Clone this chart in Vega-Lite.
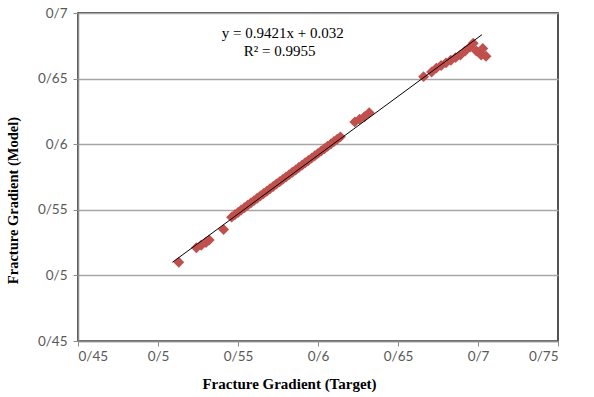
{
  "$schema": "https://vega.github.io/schema/vega-lite/v6.json",
  "width": 480,
  "height": 328,
  "autosize": "none",
  "padding": {"left": 78, "top": 13, "right": 36, "bottom": 56},
  "background": "white",
  "config": {
    "view": {"stroke": "#1a1a1a", "strokeWidth": 1.5},
    "axis": {
      "labelFont": "Lato",
      "labelFontSize": 13.5,
      "labelColor": "#595959",
      "titleFont": "Liberation Serif",
      "titleFontSize": 15,
      "titleFontWeight": "bold",
      "titleColor": "#000000",
      "domainColor": "#8c8c8c",
      "domainWidth": 1.5,
      "tickColor": "#8c8c8c",
      "tickSize": 5,
      "gridColor": "#a6a6a6",
      "gridWidth": 1.5
    }
  },
  "datasets": {
    "points": [
      {"target": 0.513, "model": 0.510},
      {"target": 0.524, "model": 0.521},
      {"target": 0.527, "model": 0.523},
      {"target": 0.530, "model": 0.525},
      {"target": 0.532, "model": 0.527},
      {"target": 0.541, "model": 0.535},
      {"target": 0.546, "model": 0.5444},
      {"target": 0.548, "model": 0.5462},
      {"target": 0.550, "model": 0.548},
      {"target": 0.552, "model": 0.5498},
      {"target": 0.554, "model": 0.5516},
      {"target": 0.556, "model": 0.5534},
      {"target": 0.558, "model": 0.5552},
      {"target": 0.560, "model": 0.557},
      {"target": 0.562, "model": 0.5588},
      {"target": 0.564, "model": 0.5606},
      {"target": 0.566, "model": 0.5624},
      {"target": 0.568, "model": 0.5642},
      {"target": 0.570, "model": 0.566},
      {"target": 0.572, "model": 0.5678},
      {"target": 0.574, "model": 0.5696},
      {"target": 0.576, "model": 0.5714},
      {"target": 0.578, "model": 0.5732},
      {"target": 0.580, "model": 0.575},
      {"target": 0.582, "model": 0.5768},
      {"target": 0.584, "model": 0.5786},
      {"target": 0.586, "model": 0.5804},
      {"target": 0.588, "model": 0.5822},
      {"target": 0.590, "model": 0.584},
      {"target": 0.592, "model": 0.5858},
      {"target": 0.594, "model": 0.5876},
      {"target": 0.596, "model": 0.5894},
      {"target": 0.598, "model": 0.5912},
      {"target": 0.600, "model": 0.593},
      {"target": 0.602, "model": 0.5948},
      {"target": 0.604, "model": 0.5966},
      {"target": 0.606, "model": 0.5984},
      {"target": 0.608, "model": 0.6002},
      {"target": 0.610, "model": 0.602},
      {"target": 0.612, "model": 0.6038},
      {"target": 0.614, "model": 0.6056},
      {"target": 0.623, "model": 0.617},
      {"target": 0.626, "model": 0.619},
      {"target": 0.629, "model": 0.621},
      {"target": 0.632, "model": 0.624},
      {"target": 0.666, "model": 0.6515},
      {"target": 0.671, "model": 0.655},
      {"target": 0.674, "model": 0.658},
      {"target": 0.677, "model": 0.660},
      {"target": 0.680, "model": 0.662},
      {"target": 0.683, "model": 0.664},
      {"target": 0.686, "model": 0.666},
      {"target": 0.689, "model": 0.668},
      {"target": 0.692, "model": 0.671},
      {"target": 0.695, "model": 0.674},
      {"target": 0.697, "model": 0.677},
      {"target": 0.699, "model": 0.671},
      {"target": 0.702, "model": 0.668},
      {"target": 0.705, "model": 0.667},
      {"target": 0.703, "model": 0.673}
    ],
    "trend": [
      {"target": 0.509, "model": 0.510},
      {"target": 0.7025, "model": 0.6835}
    ],
    "labels": [
      {"target": 0.578, "model": 0.685, "text": "y = 0.9421x + 0.032"},
      {"target": 0.576, "model": 0.6713, "text": "R² = 0.9955"}
    ]
  },
  "layer": [
    {
      "data": {"name": "points"},
      "mark": {"type": "point", "shape": "diamond", "filled": true, "size": 120, "color": "#C0504D", "opacity": 1},
      "encoding": {
        "x": {
          "field": "target", "type": "quantitative",
          "scale": {"domain": [0.45, 0.75], "nice": false, "zero": false},
          "axis": {
            "title": "Fracture Gradient (Target)",
            "values": [0.45, 0.5, 0.55, 0.6, 0.65, 0.7, 0.75],
            "grid": false,
            "labelExpr": "replace(format(datum.value, '.2~f'), '.', '/')",
            "labelPadding": 3,
            "titleX": 211,
            "titleY": 42,
            "titleBaseline": "middle",
            "titleAlign": "center"
          }
        },
        "y": {
          "field": "model", "type": "quantitative",
          "scale": {"domain": [0.45, 0.7], "nice": false, "zero": false},
          "axis": {
            "title": "Fracture Gradient (Model)",
            "values": [0.45, 0.5, 0.55, 0.6, 0.65, 0.7],
            "grid": true,
            "labelExpr": "replace(format(datum.value, '.2~f'), '.', '/')",
            "labelPadding": 6,
            "titleFontSize": 14.5,
            "titleX": -65,
            "titleY": 187,
            "titleAngle": -90,
            "titleBaseline": "middle",
            "titleAlign": "center"
          }
        }
      }
    },
    {
      "data": {"name": "trend"},
      "mark": {"type": "line", "color": "#000000", "strokeWidth": 1},
      "encoding": {
        "x": {"field": "target", "type": "quantitative"},
        "y": {"field": "model", "type": "quantitative"}
      }
    },
    {
      "data": {"name": "labels"},
      "mark": {"type": "text", "font": "Liberation Serif", "fontSize": 15, "color": "#000000", "align": "center", "baseline": "middle"},
      "encoding": {
        "x": {"field": "target", "type": "quantitative"},
        "y": {"field": "model", "type": "quantitative"},
        "text": {"field": "text"}
      }
    }
  ]
}
